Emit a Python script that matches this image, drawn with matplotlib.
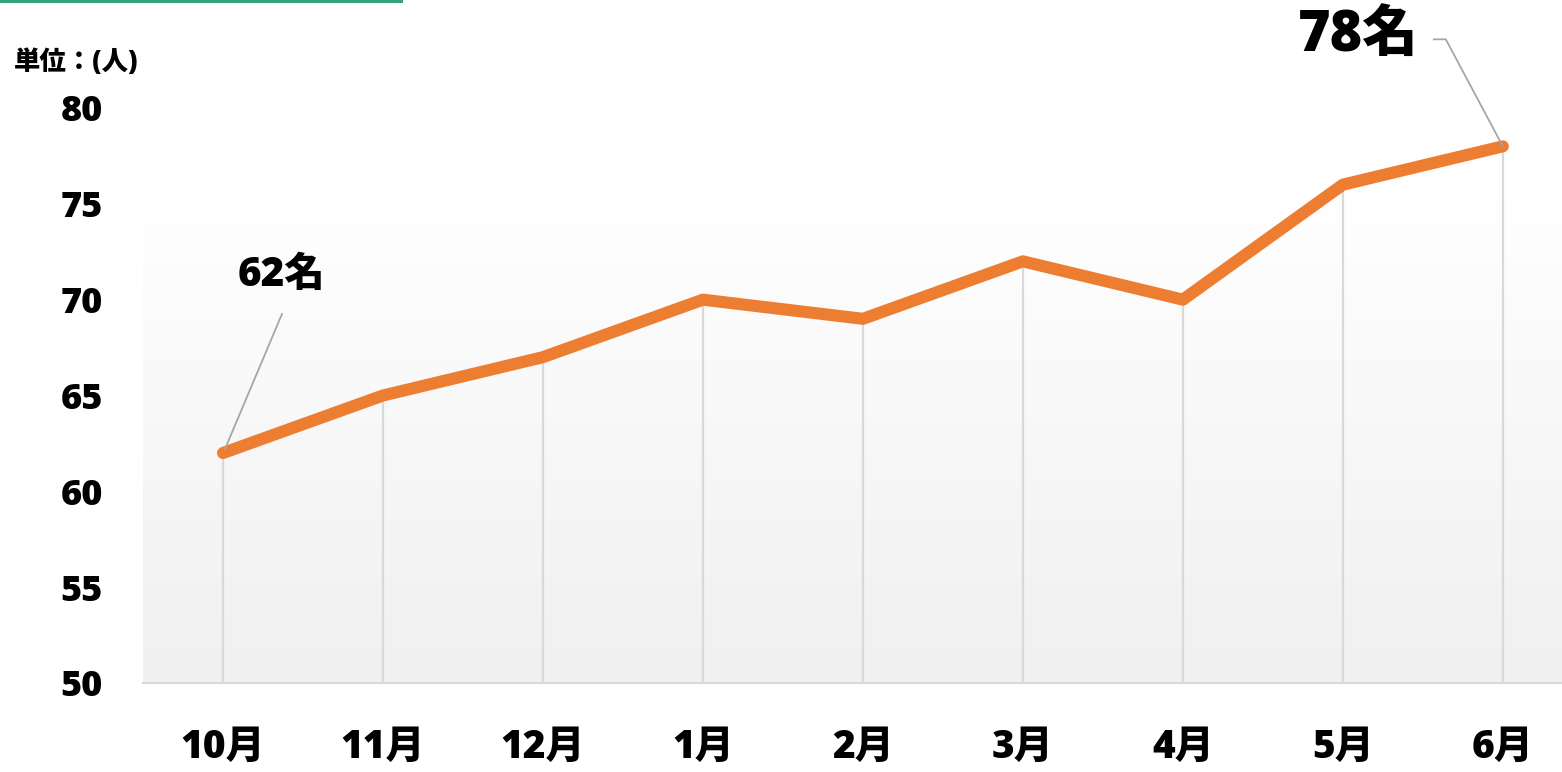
import matplotlib
matplotlib.use("Agg")
import matplotlib.pyplot as plt
import numpy as np
from matplotlib.colors import LinearSegmentedColormap
from matplotlib.lines import Line2D

FAM = ['Open Sans', 'Noto Sans CJK JP', 'DejaVu Sans']
plt.rcParams['font.family'] = FAM
WT = 800

months = ["10月", "11月", "12月", "1月", "2月", "3月", "4月", "5月", "6月"]
members = [62, 65, 67, 70, 69, 72, 70, 76, 78]
y_ticks = [50, 55, 60, 65, 70, 75, 80]
unit_label = "単位：(人)"
first_label = "62名"
last_label = "78名"

W, H = 1562, 772
fig = plt.figure(figsize=(W / 100, H / 100), dpi=100)
fig.patch.set_facecolor("white")

left, right = 143, 1562
top, bottom = 108, 683
ax = fig.add_axes([left / W, (H - bottom) / H, (right - left) / W, (bottom - top) / H])
ax.set_facecolor("none")

x = np.arange(len(months))
ax.set_xlim(-0.5, 8.37)
ax.set_ylim(50, 80)

# gradient background (gray at bottom, white at top)
cmap = LinearSegmentedColormap.from_list("g", ["#f0f0f0", "#ffffff"])
ax.imshow(np.linspace(0.0, 1.0, 256).reshape(-1, 1), extent=[-0.5, 8.37, 50, 80],
          aspect="auto", cmap=cmap, origin="lower", zorder=0, vmin=0, vmax=0.85)

# drop lines
ax.vlines(x, 50, members, colors="#d9d9d9", linewidth=1.6, zorder=1)

# main line
ax.plot(x, members, color="#ED7D31", linewidth=8.7, solid_capstyle="round",
        solid_joinstyle="round", zorder=3)

for s in ["top", "right", "left"]:
    ax.spines[s].set_visible(False)
ax.spines["bottom"].set_color("#d9d9d9")
ax.spines["bottom"].set_linewidth(1.5)

ax.set_xticks(x)
ax.set_xticklabels(months, fontsize=28, fontweight=WT)
ax.set_yticks(y_ticks)
ax.set_yticklabels([str(v) for v in y_ticks], fontsize=26, fontweight=WT)
ax.tick_params(axis="x", length=0, pad=32)
ax.tick_params(axis="y", length=0, pad=29)

# unit label
fig.text(14 / W, 1 - 63 / H, unit_label, fontsize=19, fontweight=WT,
         ha="left", va="center")

# green top line
fig.add_artist(Line2D([0, 401 / W], [1 - 1 / H, 1 - 1 / H], color="#34A07E",
                      linewidth=2.2, transform=fig.transFigure))

trans = ax.transData

# first label + leader
ax.annotate(first_label, xy=(x[0], members[0]), xytext=(58, 178),
            textcoords="offset pixels", fontsize=29, fontweight=WT,
            ha="center", va="center", zorder=5)
p0x, p0y = trans.transform((x[0], members[0]))
fig.add_artist(Line2D([(p0x + 2) / W, (p0x + 59) / W], [(p0y + 4) / H, (p0y + 139) / H],
                      color="#a6a6a6", linewidth=1.3, transform=fig.transFigure, zorder=5))

# last label + leader
ax.annotate(last_label, xy=(x[-1], members[-1]), xytext=(-145, 110),
            textcoords="offset pixels", fontsize=40, fontweight=WT,
            ha="center", va="center", annotation_clip=False, zorder=5)
px, py = trans.transform((x[-1], members[-1]))
pts = np.array([[px, py], [px - 57, py + 107], [px - 69, py + 107]])
fig.add_artist(Line2D(pts[:, 0] / W, pts[:, 1] / H, color="#a6a6a6", linewidth=1.3,
                      transform=fig.transFigure, zorder=5))

fig.savefig("out.png", dpi=100, facecolor="white")
